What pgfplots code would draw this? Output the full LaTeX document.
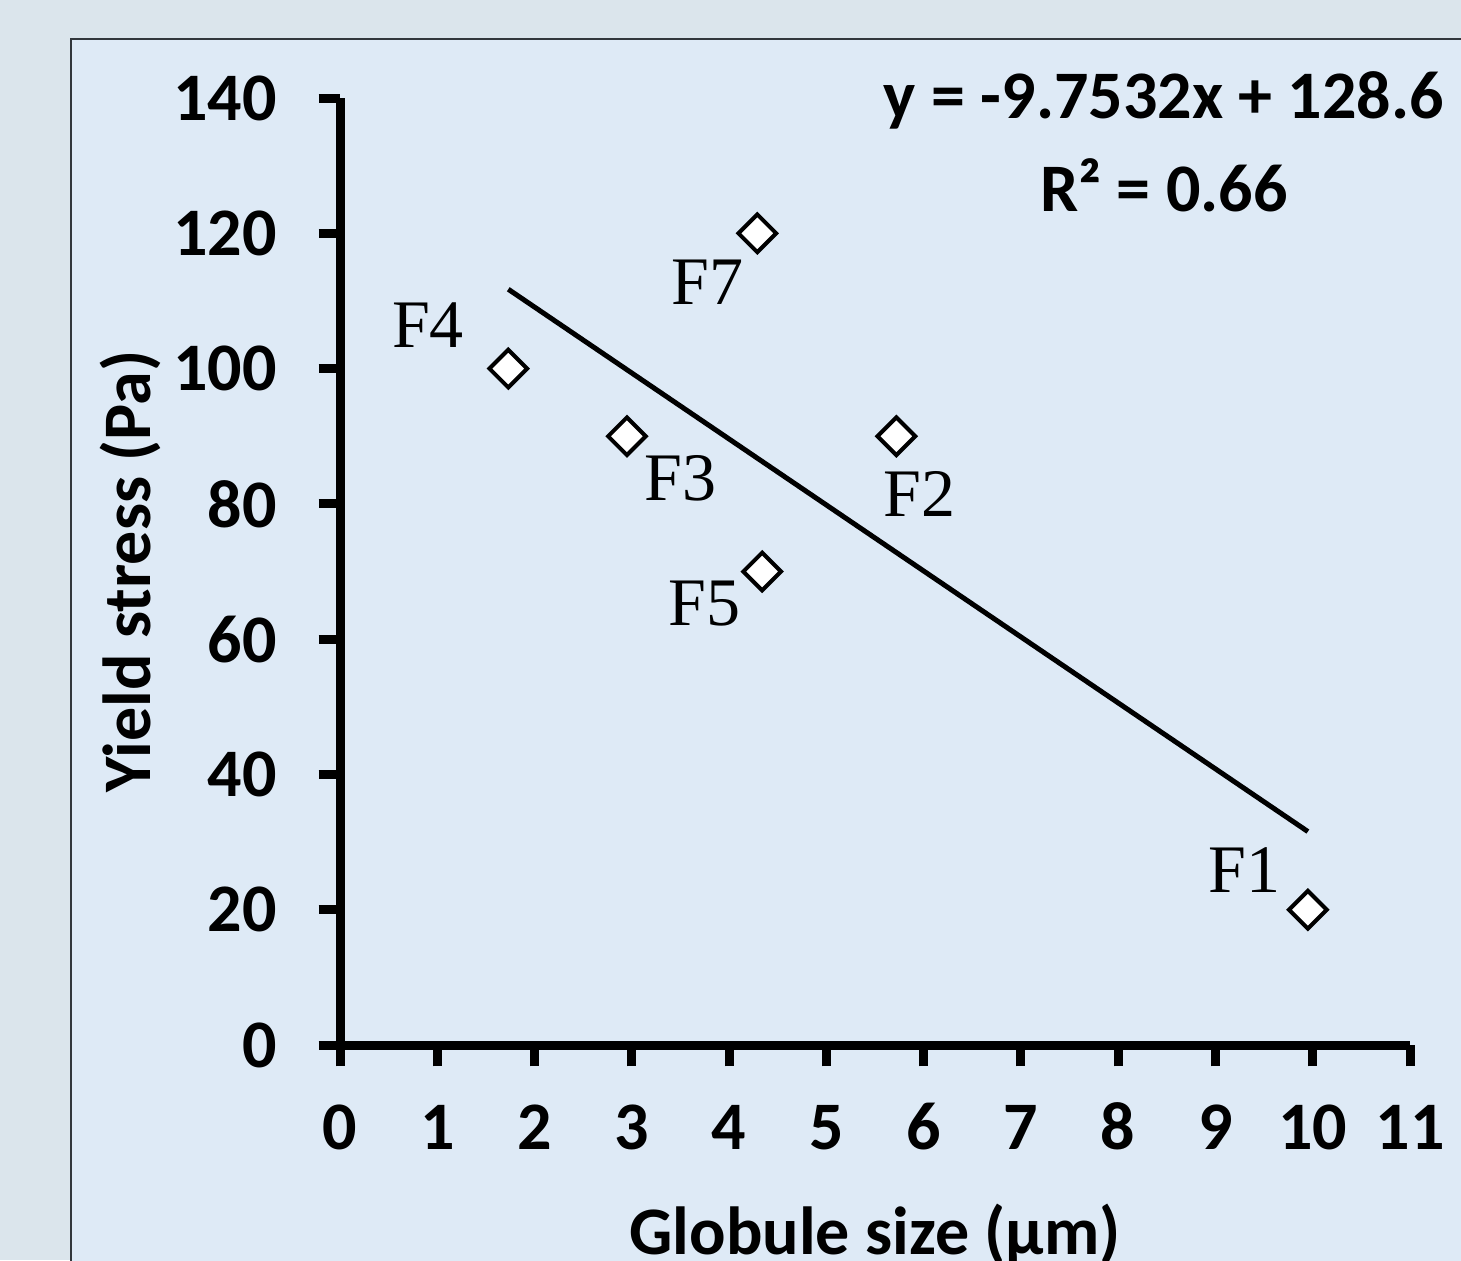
\documentclass[border=0pt]{standalone}
\usepackage{fontspec}
\setmainfont{Carlito}
\newfontfamily\tnr{Liberation Serif}
\usepackage{pgfplots}
\pgfplotsset{compat=1.18}
\definecolor{outerbg}{RGB}{219,229,236}
\definecolor{innerbg}{RGB}{222,234,246}
\definecolor{framec}{RGB}{50,55,60}
\newcommand{\bigfont}{\fontsize{20.4pt}{24pt}\selectfont}
\begin{document}
\begin{tikzpicture}
\path[use as bounding box] (0,0) rectangle (438.3pt,-378pt);
\clip (0,0) rectangle (438.3pt,-378pt);
\fill[outerbg] (0,0) rectangle (438.3pt,-378pt);
\filldraw[fill=innerbg, draw=framec, line width=0.6pt] (0.3*71pt,-0.3*39pt) rectangle (460pt,-400pt);
\begin{axis}[
  at={(0.3*340pt,-0.3*1045pt)}, anchor=south west,
  scale only axis, width=321pt, height=284.1pt,
  xmin=0, xmax=11, ymin=0, ymax=140,
  xtick={0,1,...,11}, ytick={0,20,...,140},
  axis lines*=left,
  axis line style={line width=2.7pt, black},
  tick style={line width=2.7pt, black},
  major tick length=6.4pt,
  tick align=outside,
  /pgf/number format/assume math mode=true,
  ticklabel style={font=\bfseries\bigfont},
  yticklabel style={anchor=east, xshift=-9pt},
  xticklabel style={anchor=north, text height=13pt, text depth=0pt, yshift=-8.4pt},
  xlabel={Globule size (µm)},
  ylabel={Yield stress (Pa)},
  label style={font=\bfseries\bigfont},
  xlabel style={anchor=center, at={(axis description cs:0.5,-0.2)}},
  ylabel style={anchor=center, at={(axis description cs:-0.196,0.5)}},
  clip=false,
]
\addplot[black, line width=1.5pt] coordinates {(1.73,111.73) (9.95,31.56)};
\addplot[only marks, mark=square*, mark size=4.0pt,
  mark options={rotate=45, fill=white, draw=black, line width=1.2pt}]
  coordinates {(1.73,100) (2.95,90) (4.29,120) (4.34,70) (5.72,90) (9.95,20)};
\node[font=\tnr\bigfont] at (axis cs:3.78,112.8) {F7};
\node[font=\tnr\bigfont] at (axis cs:0.905,106.4) {F4};
\node[font=\tnr\bigfont] at (axis cs:3.50,83.8) {F3};
\node[font=\tnr\bigfont] at (axis cs:5.96,81.5) {F2};
\node[font=\tnr\bigfont] at (axis cs:3.75,65.3) {F5};
\node[font=\tnr\bigfont] at (axis cs:9.30,25.9) {F1};
\node[font=\bfseries\bigfont] at (axis cs:8.47,139.7) {y = -9.7532x + 128.6};
\node[font=\bfseries\bigfont] at (axis cs:8.47,127.1) {R² = 0.66};
\end{axis}
\end{tikzpicture}
\end{document}
